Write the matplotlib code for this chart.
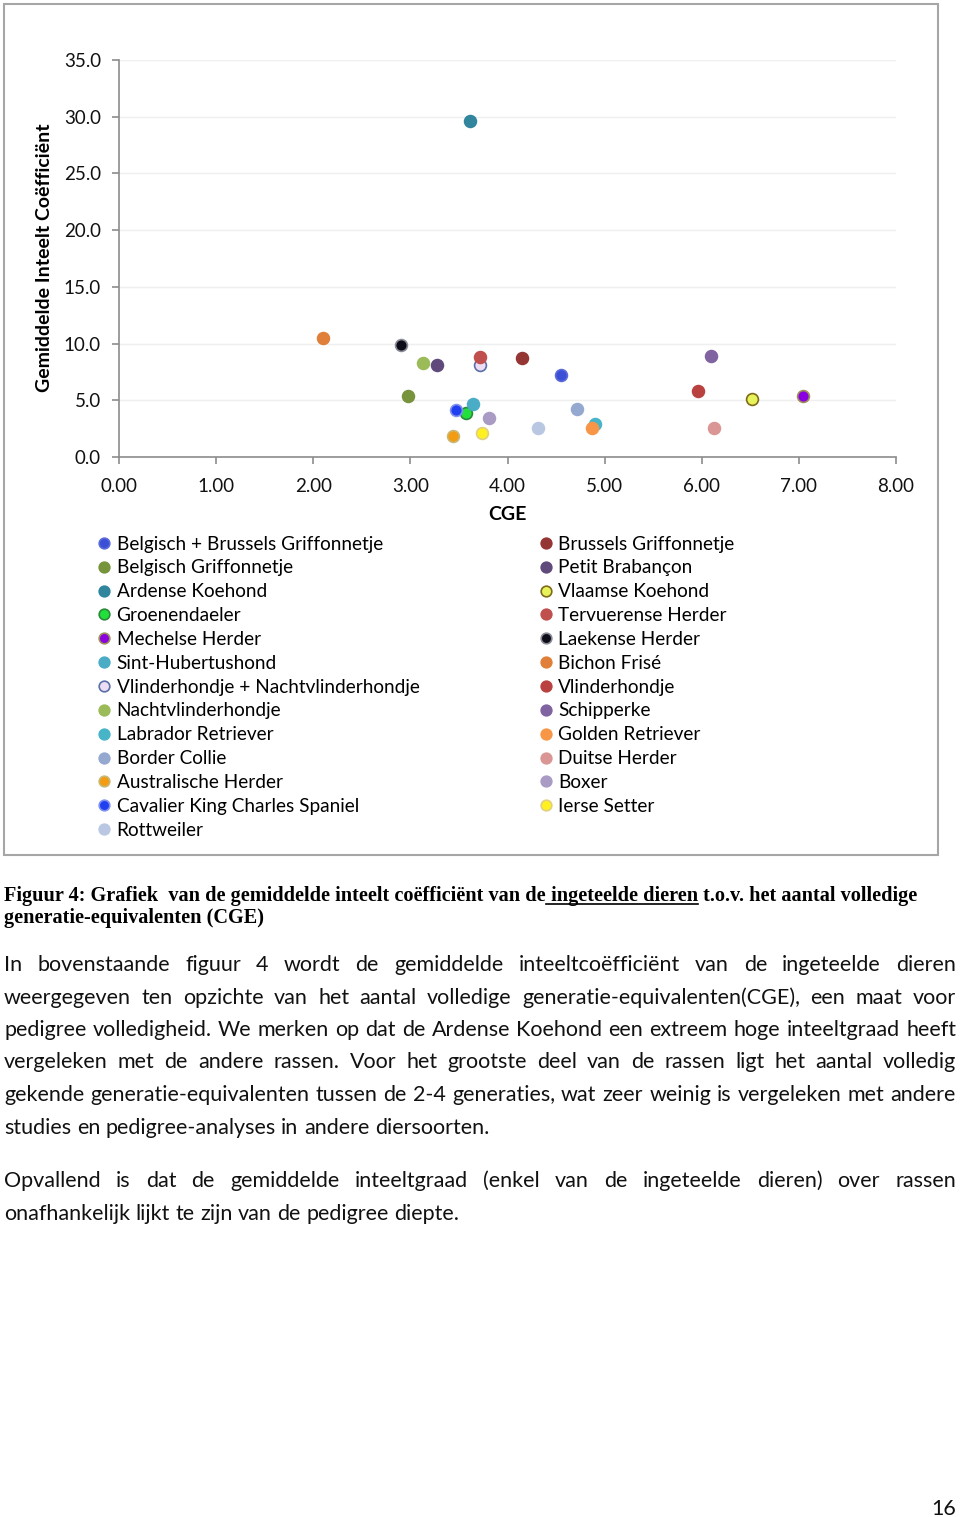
#!/usr/bin/env python3
"""Gemiddelde inteeltcoefficient t.o.v. CGE per ras (pagina 16)."""

import matplotlib
matplotlib.use("Agg")
from matplotlib import pyplot as plt
from matplotlib.lines import Line2D
from matplotlib.patches import Rectangle

# data
breeds = [
    "Belgisch + Brussels Griffonnetje", "Belgisch Griffonnetje",
    "Ardense Koehond", "Groenendaeler", "Mechelse Herder",
    "Sint-Hubertushond", "Vlinderhondje + Nachtvlinderhondje",
    "Nachtvlinderhondje", "Labrador Retriever", "Border Collie",
    "Australische Herder", "Cavalier King Charles Spaniel", "Rottweiler",
    "Brussels Griffonnetje", "Petit Brabançon", "Vlaamse Koehond",
    "Tervuerense Herder", "Laekense Herder", "Bichon Frisé",
    "Vlinderhondje", "Schipperke", "Golden Retriever", "Duitse Herder",
    "Boxer", "Ierse Setter",
]
cge = [4.55, 2.98, 3.61, 3.57, 7.04, 3.64, 3.72, 3.13, 4.90, 4.72,
       3.44, 3.47, 4.31, 4.15, 3.27, 6.52, 3.72, 2.90, 2.10, 5.96,
       6.10, 4.87, 6.13, 3.81, 3.74]
inteelt = [7.2, 5.4, 29.6, 3.9, 5.4, 4.7, 8.1, 8.3, 2.9, 4.2,
           1.85, 4.1, 2.6, 8.7, 8.1, 5.1, 8.8, 9.9, 10.5, 5.8,
           8.9, 2.6, 2.6, 3.4, 2.1]
fill = ["#3b4fd6", "#77933c", "#31859c", "#22e03c", "#8a00e0",
        "#4bacc6", "#ecdcf4", "#9bbb59", "#48b4c8", "#95a8cf",
        "#f39c12", "#2040f0", "#b9c7e2", "#943634", "#604a7b",
        "#e6f35a", "#c0504d", "#0d0d1a", "#e07f3a", "#b94240",
        "#8064a2", "#f79646", "#d99694", "#a99bc4", "#fff020"]
edge = ["#5a6ad8", "#77933c", "#31859c", "#2a8a3a", "#9c8f5a",
        "#4bacc6", "#5b6fa8", "#9bbb59", "#48b4c8", "#95a8cf",
        "#c8b878", "#8090f0", "#b9c7e2", "#943634", "#604a7b",
        "#7f6a1a", "#c0504d", "#8a8a96", "#e07f3a", "#b94240",
        "#8064a2", "#f79646", "#d99694", "#a99bc4", "#e0d080"]

xticks = [0, 1, 2, 3, 4, 5, 6, 7, 8]
yticks = [0, 5, 10, 15, 20, 25, 30, 35]

caption1 = "Figuur 4: Grafiek  van de gemiddelde inteelt coëfficiënt van de"
caption_ul = " ingeteelde dieren"
caption2 = " t.o.v. het aantal volledige"
caption3 = "generatie-equivalenten (CGE)"

para1 = [
    "In bovenstaande figuur 4 wordt de gemiddelde inteeltcoëfficiënt van de ingeteelde dieren",
    "weergegeven ten opzichte van het aantal volledige generatie-equivalenten(CGE), een maat voor",
    "pedigree volledigheid. We merken op dat de Ardense Koehond een extreem hoge inteeltgraad heeft",
    "vergeleken met de andere rassen. Voor het grootste deel van de rassen ligt het aantal volledig",
    "gekende generatie-equivalenten tussen de 2-4 generaties, wat zeer weinig is vergeleken met andere",
    "studies en pedigree-analyses in andere diersoorten.",
]
para2 = [
    "Opvallend is dat de gemiddelde inteeltgraad (enkel van de ingeteelde dieren) over rassen",
    "onafhankelijk lijkt te zijn van de pedigree diepte.",
]

W, H = 960, 1517
BODY = "Lato"
plt.rcParams["font.family"] = [BODY, "DejaVu Sans"]


def fx(px):
    return px / W


def fy(py):
    return 1 - py / H


fig = plt.figure(figsize=(9.6, 15.17), dpi=100)
renderer = fig.canvas.get_renderer()

# chart frame
fig.patches.append(Rectangle((fx(4), fy(855)), fx(938) - fx(4),
                             fy(4) - fy(855), transform=fig.transFigure,
                             fill=False, ec="#a6a6a6", lw=1.5))

ax = fig.add_axes([fx(119), fy(457), fx(896) - fx(119), fy(60) - fy(457)])
handles = []
for b, x, y, fc, ec in zip(breeds, cge, inteelt, fill, edge):
    h, = ax.plot([x], [y], "o", ms=8.5, mfc=fc, mec=ec, mew=1.2,
                 ls="none", label=b, zorder=3)
    handles.append(h)
ax.set_xlim(0, 8)
ax.set_ylim(0, 35)
ax.set_xticks(xticks)
ax.set_xticklabels([f"{v:.2f}" for v in xticks])
ax.set_yticks(yticks)
ax.set_yticklabels([f"{v:.1f}" for v in yticks])
ax.grid(axis="y", color="#efefef", lw=1)
ax.set_axisbelow(True)
for s in ("top", "right"):
    ax.spines[s].set_visible(False)
for s in ("left", "bottom"):
    ax.spines[s].set_color("#8c8c8c")
    ax.spines[s].set_linewidth(1.2)
ax.tick_params(direction="out", length=5, width=1.2, color="#8c8c8c",
               labelsize=13.5, labelcolor="#111111", pad=8)
ax.tick_params(axis="x", pad=10)

fig.text(fx(45), fy(258), "Gemiddelde Inteelt Coëfficiënt", rotation=90,
         ha="center", va="center", fontsize=14, fontweight="bold")
fig.text(fx(507), fy(515), "CGE", ha="center", va="center",
         fontsize=14, fontweight="bold")

fig.legend(handles=handles, ncol=2, loc="upper left",
           bbox_to_anchor=(fx(89), fy(526)), frameon=False, fontsize=13.7,
           handlelength=0.6, handletextpad=0.35, labelspacing=0.36,
           columnspacing=6.35, borderpad=0, markerscale=0.9)

# caption, bold serif, with underlined part
cap_kw = dict(fontsize=14.6, fontweight="bold", family="Liberation Serif",
              va="baseline", ha="left")
t1 = fig.text(fx(4), fy(901), caption1, **cap_kw)
w1 = t1.get_window_extent(renderer).width
t2 = fig.text(fx(4 + w1), fy(901), caption_ul, **cap_kw)
w2 = t2.get_window_extent(renderer).width
fig.text(fx(4 + w1 + w2), fy(901), caption2, **cap_kw)
fig.add_artist(Line2D([fx(4 + w1), fx(4 + w1 + w2)], [fy(904), fy(904)],
                      color="black", lw=1.2))
fig.text(fx(4), fy(923), caption3, **cap_kw)


def place_line(line, base, justify, left=4, right=956, size=15.5):
    words = line.split(" ")
    texts = [fig.text(0, 0, w, fontsize=size, va="baseline", ha="left",
                      color="#111111") for w in words]
    widths = [t.get_window_extent(renderer).width for t in texts]
    if justify and len(words) > 1:
        gap = (right - left - sum(widths)) / (len(words) - 1)
    else:
        probe = fig.text(0, 0, "x x", fontsize=size)
        probe2 = fig.text(0, 0, "xx", fontsize=size)
        gap = (probe.get_window_extent(renderer).width
               - probe2.get_window_extent(renderer).width)
        probe.remove()
        probe2.remove()
    x = left
    for t, w in zip(texts, widths):
        t.set_position((fx(x), fy(base)))
        x += w + gap


for i, line in enumerate(para1):
    place_line(line, 971 + 32.5 * i, i < len(para1) - 1)
for i, line in enumerate(para2):
    place_line(line, 1187 + 32.5 * i, i < len(para2) - 1)

fig.text(fx(956), fy(1515), "16", ha="right", va="baseline", fontsize=15.5,
         color="#111111")

fig.savefig("out.png", dpi=100)
